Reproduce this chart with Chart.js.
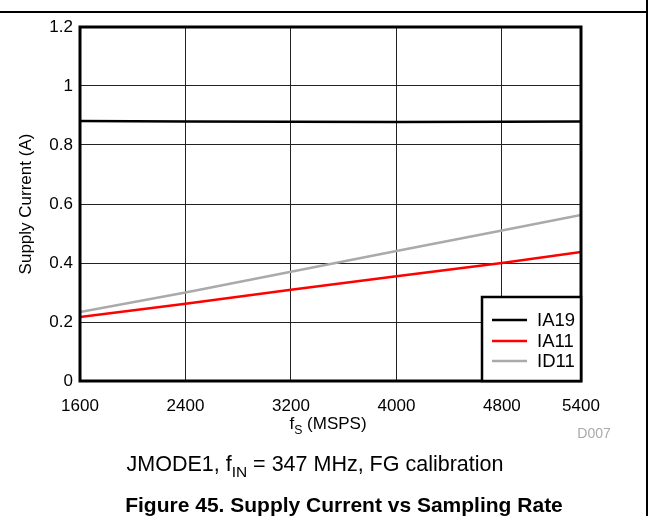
<!DOCTYPE html>
<html><head><meta charset="utf-8">
<script src="https://cdn.jsdelivr.net/npm/chart.js@4/dist/chart.umd.min.js"></script>
<style>html,body{margin:0;padding:0;background:#fff}#wrap{width:649px;height:516px;position:relative}</style>
</head><body><div id="wrap"><canvas id="c" width="649" height="516"></canvas></div>
<script>
const samplingRates = [1600, 2400, 3200, 4000, 4800, 5400];
const ia19 = [0.881, 0.880, 0.879, 0.878, 0.879, 0.880];
const ia11 = [0.217, 0.262, 0.309, 0.355, 0.400, 0.437];
const id11 = [0.234, 0.300, 0.370, 0.441, 0.510, 0.563];
const xTicks = [1600, 2400, 3200, 4000, 4800, 5400];
const yTicks = [0, 0.2, 0.4, 0.6, 0.8, 1, 1.2];
const seriesNames = ['IA19', 'IA11', 'ID11'];
const seriesColors = ['#000000', '#ff0000', '#aaaaaa'];

const FONT = '"Liberation Sans", Arial, sans-serif';
const pts = arr => samplingRates.map((x, i) => ({x, y: arr[i]}));

const decor = {
  id: 'decor',
  afterDatasetsDraw(chart) {
    const ctx = chart.ctx, a = chart.chartArea;
    ctx.save();
    // outer page lines
    ctx.strokeStyle = '#000'; ctx.lineWidth = 2;
    ctx.beginPath(); ctx.moveTo(0, 12); ctx.lineTo(647, 12); ctx.stroke();
    ctx.beginPath(); ctx.moveTo(647, 0); ctx.lineTo(647, 516); ctx.stroke();
    // plot frame
    ctx.lineWidth = 3;
    ctx.strokeRect(a.left, a.top, a.right - a.left, a.bottom - a.top);
    // legend box
    const lx = 482, ly = 297, lw = a.right - lx, lh = a.bottom - ly;
    ctx.fillStyle = '#fff';
    ctx.fillRect(lx, ly, lw, lh);
    ctx.lineWidth = 2.5; ctx.strokeStyle = '#000';
    ctx.strokeRect(lx, ly, lw, lh);
    ctx.font = '18.5px ' + FONT; ctx.textBaseline = 'middle'; ctx.textAlign = 'left';
    const rows = [320, 341, 361];
    chart.data.datasets.forEach((ds, i) => {
      ctx.strokeStyle = ds.borderColor; ctx.lineWidth = 2.5;
      ctx.beginPath(); ctx.moveTo(492, rows[i]); ctx.lineTo(527, rows[i]); ctx.stroke();
      ctx.fillStyle = '#000';
      ctx.fillText(ds.label, 537, rows[i] + 1);
    });
    // y title
    ctx.save();
    ctx.translate(26, (a.top + a.bottom) / 2);
    ctx.rotate(-Math.PI / 2);
    ctx.font = '17px ' + FONT; ctx.textAlign = 'center'; ctx.textBaseline = 'middle';
    ctx.fillText('Supply Current (A)', 0, 0);
    ctx.restore();
    // text with subscript
    const drawSub = (parts, cx, y, size, bold) => {
      const f = (s) => (bold ? 'bold ' : '') + s + 'px ' + FONT;
      let total = 0;
      parts.forEach(p => { ctx.font = f(p.sub ? size * 0.72 : size); total += ctx.measureText(p.t).width; });
      let x = cx - total / 2;
      ctx.textAlign = 'left'; ctx.textBaseline = 'alphabetic';
      parts.forEach(p => {
        ctx.font = f(p.sub ? size * 0.72 : size);
        ctx.fillText(p.t, x, p.sub ? y + size * 0.28 : y);
        x += ctx.measureText(p.t).width;
      });
    };
    ctx.fillStyle = '#000';
    drawSub([{t:'f'},{t:'S',sub:true},{t:' (MSPS)'}], 328, 429, 17, false);
    drawSub([{t:'JMODE1, f'},{t:'IN',sub:true},{t:' = 347 MHz, FG calibration'}], 315, 471, 21.5, false);
    ctx.font = 'bold 21px ' + FONT; ctx.textAlign = 'center';
    ctx.fillText('Figure 45. Supply Current vs Sampling Rate', 344, 512);
    ctx.fillStyle = '#aaa'; ctx.font = '14px ' + FONT;
    ctx.fillText('D007', 594, 438);
    ctx.restore();
  }
};

new Chart(document.getElementById('c'), {
  type: 'line',
  data: {
    datasets: [
      {label: seriesNames[0], data: pts(ia19), borderColor: seriesColors[0], borderWidth: 2.5},
      {label: seriesNames[1], data: pts(ia11), borderColor: seriesColors[1], borderWidth: 2.5},
      {label: seriesNames[2], data: pts(id11), borderColor: seriesColors[2], borderWidth: 2.5}
    ]
  },
  options: {
    responsive: false, animation: false,
    layout: {padding: {left: 0, top: 27, right: 68, bottom: 100}},
    elements: {point: {radius: 0}, line: {tension: 0}},
    plugins: {legend: {display: false}, tooltip: {enabled: false}},
    scales: {
      x: {
        type: 'linear', min: 1600, max: 5400,
        afterBuildTicks: s => { s.ticks = xTicks.map(v => ({value: v})); },
        afterFit: s => { s.height = 35; },
        grid: {color: '#222', lineWidth: 1, drawTicks: false},
        border: {display: false},
        ticks: {color: '#000', font: {family: FONT, size: 17}, padding: 15, maxRotation: 0,
          callback: v => String(v)}
      },
      y: {
        min: 0, max: 1.2,
        afterBuildTicks: s => { s.ticks = yTicks.map(v => ({value: v})); },
        afterFit: s => { s.width = 80; },
        grid: {color: '#222', lineWidth: 1, drawTicks: false},
        border: {display: false},
        ticks: {color: '#000', font: {family: FONT, size: 17}, padding: 7,
          callback: v => String(v)}
      }
    }
  },
  plugins: [decor]
});
</script></body></html>
